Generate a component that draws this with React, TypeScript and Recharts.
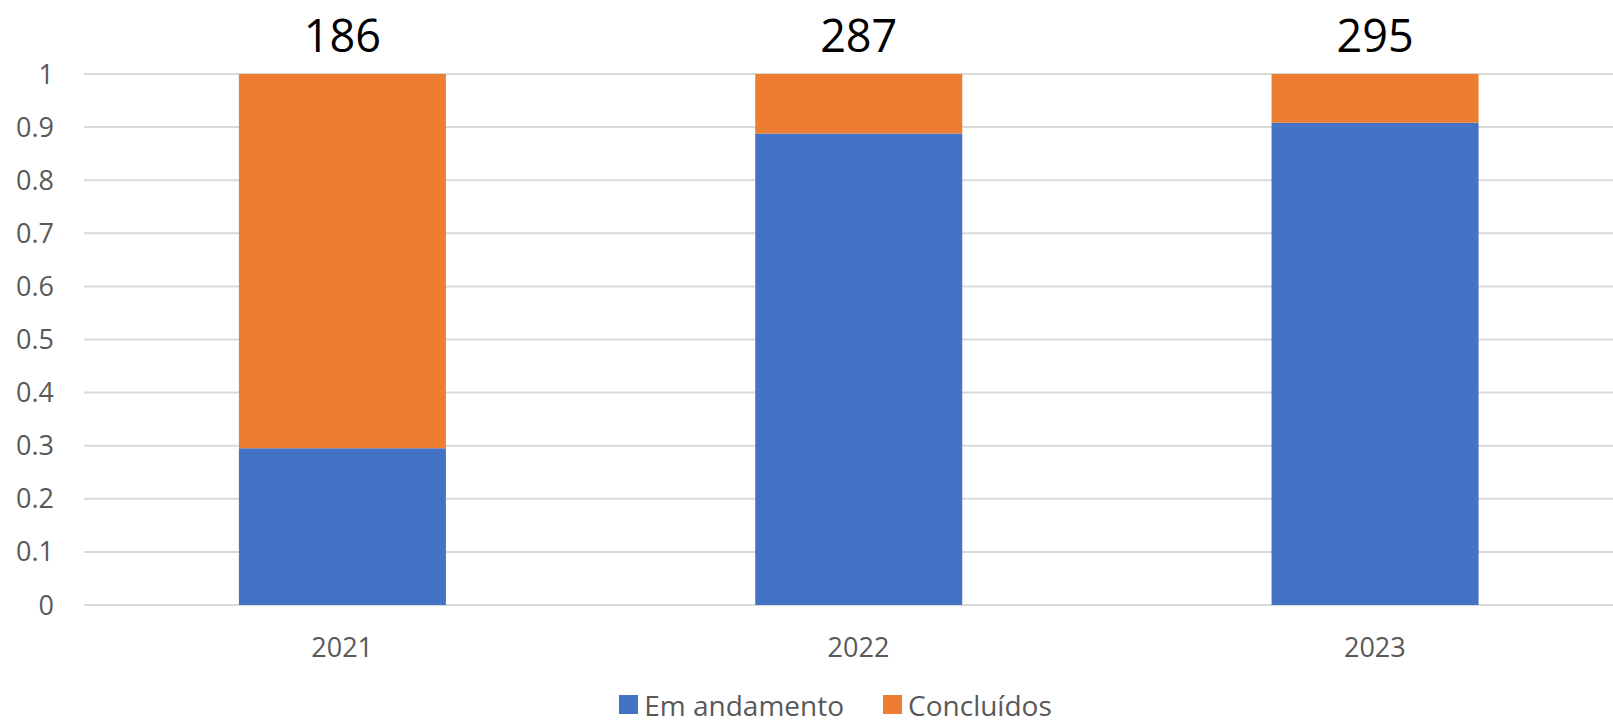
import React from 'react'
import {
  BarChart,
  Bar,
  XAxis,
  YAxis,
  CartesianGrid,
  Legend,
  LabelList,
} from 'recharts'

const years = ['2021', '2022', '2023']
const emAndamento = [0.295, 0.888, 0.908]
const concluidos = [0.705, 0.112, 0.092]
const totals = [186, 287, 295]
const yTicks = [0, 0.1, 0.2, 0.3, 0.4, 0.5, 0.6, 0.7, 0.8, 0.9, 1]
const legendOrder = ['andamento', 'concluidos']

const BLUE = '#4472C4'
const ORANGE = '#ED7D31'
const FONT = '"Open Sans", sans-serif'

const chartData = years.map((year, i) => ({
  year,
  andamento: emAndamento[i],
  concluidos: concluidos[i],
  total: totals[i],
}))

function LegendContent({ payload }: any) {
  const items = [...(payload || [])].sort(
    (a: any, b: any) => legendOrder.indexOf(a.dataKey) - legendOrder.indexOf(b.dataKey)
  )
  return (
    <div
      style={{
        height: 50,
        boxSizing: 'border-box',
        paddingTop: 15,
        paddingLeft: 38,
        display: 'flex',
        justifyContent: 'center',
        fontFamily: FONT,
        fontSize: 28,
        color: '#595959',
        lineHeight: '28px',
      }}
    >
      {items.map((item: any, i: number) => (
        <div key={i} style={{ display: 'flex', alignItems: 'center', marginLeft: i > 0 ? 39 : 0 }}>
          <span style={{ width: 19, height: 19, background: item.color, marginRight: 6, display: 'inline-block' }} />
          <span>{item.value}</span>
        </div>
      ))}
    </div>
  )
}

export default function App() {
  return (
    <div style={{ position: 'absolute', left: 0, top: 0, width: 1613, height: 722, overflow: 'hidden', background: '#fff' }}>
      <BarChart
        width={1633}
        height={722}
        data={chartData}
        margin={{ top: 74, right: 0, left: 0, bottom: 0 }}
        barCategoryGap="30%"
      >
        <CartesianGrid vertical={false} stroke="#d9d9d9" strokeWidth={2} />
        <XAxis
          dataKey="year"
          axisLine={false}
          tickLine={false}
          height={67}
          tickMargin={27}
          tick={{ fill: '#595959', fontSize: 27, fontFamily: FONT }}
        />
        <YAxis
          width={84}
          domain={[0, 1]}
          ticks={yTicks}
          axisLine={false}
          tickLine={false}
          tickMargin={24}
          tick={{ fill: '#595959', fontSize: 27, fontFamily: FONT }}
        />
        <Legend verticalAlign="bottom" content={<LegendContent />} />
        <Bar dataKey="andamento" name="Em andamento" stackId="a" fill={BLUE} isAnimationActive={false} />
        <Bar dataKey="concluidos" name="Concluídos" stackId="a" fill={ORANGE} isAnimationActive={false}>
          <LabelList dataKey="total" position="top" offset={22} fill="#000" fontSize={45} fontFamily={FONT} />
        </Bar>
      </BarChart>
    </div>
  )
}
